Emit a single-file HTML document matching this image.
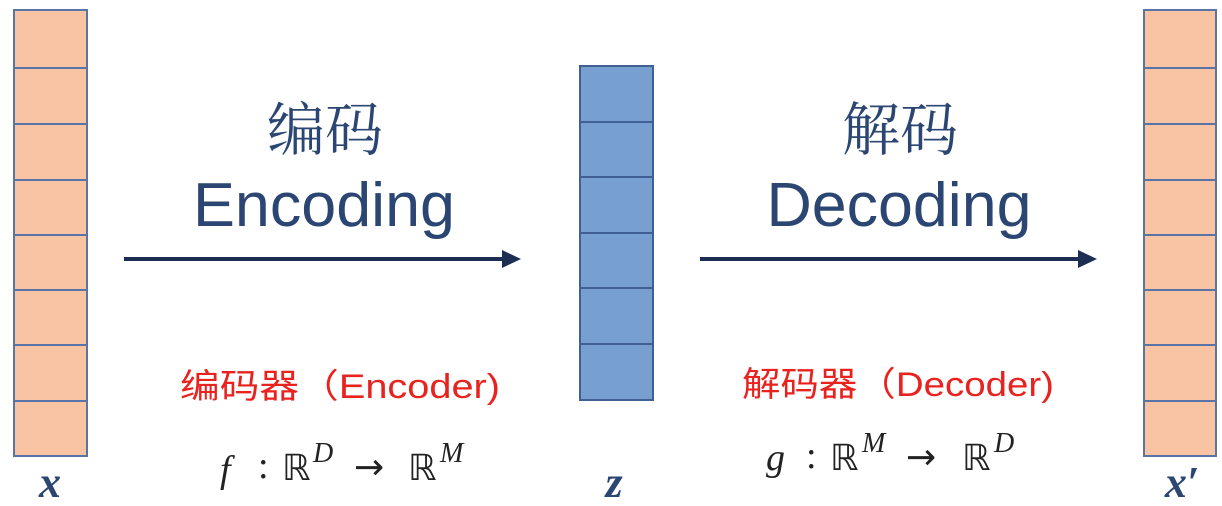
<!DOCTYPE html>
<html><head><meta charset="utf-8"><style>
html,body{margin:0;padding:0;background:#fff;width:1222px;height:506px;overflow:hidden}
svg{display:block}
</style></head><body>
<svg width="1222" height="506" viewBox="0 0 1222 506" xmlns="http://www.w3.org/2000/svg">
<g stroke="#5a74a8" stroke-width="2" fill="#f9c4a3">
<rect x="14" y="10" width="73" height="446"/>
<line x1="14" y1="68" x2="87" y2="68"/><line x1="14" y1="124" x2="87" y2="124"/><line x1="14" y1="180" x2="87" y2="180"/><line x1="14" y1="235" x2="87" y2="235"/><line x1="14" y1="290" x2="87" y2="290"/><line x1="14" y1="345" x2="87" y2="345"/><line x1="14" y1="401" x2="87" y2="401"/>
<rect x="1144" y="10" width="72" height="446"/>
<line x1="1144" y1="68" x2="1216" y2="68"/><line x1="1144" y1="124" x2="1216" y2="124"/><line x1="1144" y1="180" x2="1216" y2="180"/><line x1="1144" y1="235" x2="1216" y2="235"/><line x1="1144" y1="290" x2="1216" y2="290"/><line x1="1144" y1="345" x2="1216" y2="345"/><line x1="1144" y1="401" x2="1216" y2="401"/>
</g>
<g stroke="#3f5f95" stroke-width="2" fill="#779fcf">
<rect x="580" y="66" width="73" height="334"/>
<line x1="580" y1="122" x2="653" y2="122"/><line x1="580" y1="177" x2="653" y2="177"/><line x1="580" y1="233" x2="653" y2="233"/><line x1="580" y1="288" x2="653" y2="288"/><line x1="580" y1="344" x2="653" y2="344"/>
</g>
<g fill="#1c2f52" stroke="none">
<rect x="124" y="257" width="380" height="4"/><polygon points="502,250 521,259 502,268"/>
<rect x="700" y="257" width="380" height="4"/><polygon points="1078,250 1097,259 1078,268"/>
</g>
<g fill="#2b4672" font-family="'Liberation Sans','Noto Sans CJK SC',sans-serif" text-anchor="middle">
<text x="325" y="150" font-size="58" font-family="'Noto Serif CJK SC','Noto Sans CJK SC',serif">编码</text>
<text x="324" y="226" font-size="62" textLength="262" lengthAdjust="spacingAndGlyphs">Encoding</text>
<text x="900" y="150" font-size="58" font-family="'Noto Serif CJK SC','Noto Sans CJK SC',serif">解码</text>
<text x="899" y="226" font-size="62" textLength="265" lengthAdjust="spacingAndGlyphs">Decoding</text>
</g>
<g fill="#e8231f" font-family="'Liberation Sans','Noto Sans CJK SC',sans-serif" font-size="34">
<text x="180" y="398" textLength="320" lengthAdjust="spacingAndGlyphs">编码器（Encoder)</text>
<text x="742" y="396" textLength="312" lengthAdjust="spacingAndGlyphs">解码器（Decoder)</text>
</g>
<g fill="#222" font-family="'Liberation Serif','DejaVu Serif',serif" font-size="38">
<text x="220" y="482" font-style="italic">f</text><text x="258" y="478">:</text><text x="282" y="480" font-family="'DejaVu Sans',sans-serif" font-size="36">ℝ</text><text x="313" y="462" font-size="28" font-style="italic">D</text><text x="354" y="479" font-family="'DejaVu Sans',sans-serif" font-size="36">→</text><text x="408" y="480" font-family="'DejaVu Sans',sans-serif" font-size="36">ℝ</text><text x="440" y="462" font-size="28" font-style="italic">M</text>
<text x="766" y="470" font-style="italic">g</text><text x="806" y="468">:</text><text x="830" y="470" font-family="'DejaVu Sans',sans-serif" font-size="36">ℝ</text><text x="862" y="452" font-size="28" font-style="italic">M</text><text x="906" y="469" font-family="'DejaVu Sans',sans-serif" font-size="36">→</text><text x="962" y="470" font-family="'DejaVu Sans',sans-serif" font-size="36">ℝ</text><text x="994" y="452" font-size="28" font-style="italic">D</text>
</g>
<g fill="#2b4672" font-family="'Liberation Serif',serif" font-size="44" font-weight="bold" font-style="italic" text-anchor="middle">
<text x="50" y="497">x</text>
<text x="614" y="497">z</text>
<text x="1182" y="497">x′</text>
</g>
</svg>
</body></html>
